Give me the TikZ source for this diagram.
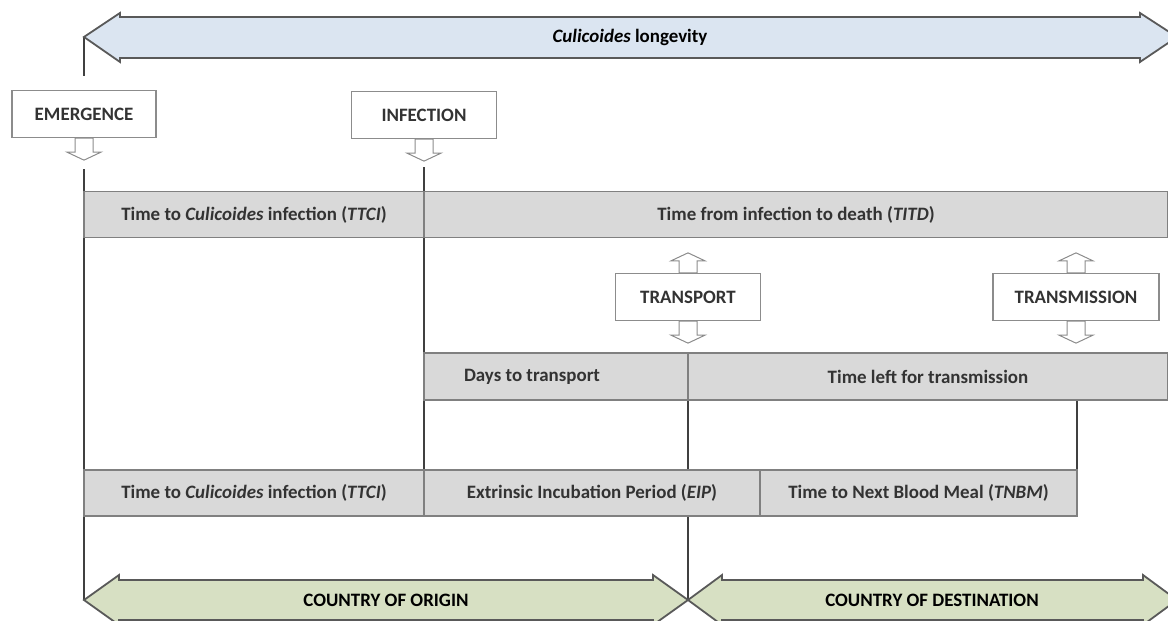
\documentclass[tikz,border=0pt]{standalone}
\usepackage{fontspec}
\setmainfont{Carlito}
\usetikzlibrary{positioning,backgrounds}
\definecolor{longblue}{HTML}{DBE5F1}
\definecolor{countrygreen}{HTML}{D7E0C3}
\definecolor{bandgray}{HTML}{D9D9D9}

\begin{document}
\begin{tikzpicture}[x=1bp,y=-1bp,font=\bfseries\fontsize{19}{22}\selectfont,
    label box/.style={rectangle,draw=black!45,line width=1.3bp,fill=white,minimum height=47bp,text=black!80},
    cell/.style={rectangle,draw=black!50,line width=1.4bp,fill=bandgray,minimum height=46bp,inner sep=0pt,outer sep=0pt,text=black!80},
    life line/.style={draw=black!75,line width=1.5bp},
    hollow/.style={draw=black!45,fill=white,line width=1bp},
    big arrow/.style={draw=black!65,line width=1.8bp,line join=miter}]

    \useasboundingbox (0,0) rectangle (1168,621);

    \coordinate (start) at (84,37);
    \coordinate (origin tip) at (84,600);
    \coordinate (border) at (688,600);

    % longevity arrow
    \draw[big arrow,fill=longblue] (start) -- (120,13) -- (120,17) -- (1140,17) -- (1140,13) -- (1177,37)
        -- (1140,62) -- (1140,58) -- (120,58) -- (120,62) -- cycle;
    \node (longevity) at (630,37) {\textit{Culicoides} longevity};

    % countries
    \draw[big arrow,fill=countrygreen] (origin tip) -- (119,575) -- (119,580) -- (653,580) -- (653,575) -- (border)
        -- (653,625) -- (653,620) -- (119,620) -- (119,625) -- cycle;
    \draw[big arrow,fill=countrygreen] (border) -- (722,575) -- (722,580) -- (1143,580) -- (1143,575) -- (1177,600)
        -- (1143,625) -- (1143,620) -- (722,620) -- (722,625) -- cycle;
    \node (origin) at (386,600) {COUNTRY OF ORIGIN};
    \node (destination) at (932,600) {COUNTRY OF DESTINATION};

    % events
    \node[label box,minimum width=144bp] (emergence) at (84,114) {EMERGENCE};
    \node[label box,minimum width=145bp] (infection) at (424,115) {INFECTION};
    \node[label box,minimum width=145bp] (transport) at (688,297) {TRANSPORT};
    \node[label box,minimum width=166bp] (transmission) at (1076,297) {TRANSMISSION};

    % periods
    \node[cell,minimum width=340bp] (ttci) at (254,214.5) {Time to \textit{Culicoides} infection (\textit{TTCI})};
    \node[cell,minimum width=744bp] (titd) [right=0pt of ttci] {Time from infection to death (\textit{TITD})};

    \node[cell,minimum width=264bp,minimum height=47bp] (days) at (556,376.5) {\hspace*{-48bp}Days to transport};
    \node[cell,minimum width=480bp,minimum height=47bp] (left) [right=0pt of days] {Time left for transmission};

    \node[cell,minimum width=340bp] (ttci2) at (254,493) {Time to \textit{Culicoides} infection (\textit{TTCI})};
    \node[cell,minimum width=336bp] (eip) [right=0pt of ttci2] {Extrinsic Incubation Period (\textit{EIP})};
    \node[cell,minimum width=317bp] (tnbm) [right=0pt of eip] {Time to Next Blood Meal (\textit{TNBM})};

    \begin{scope}[on background layer]
        \draw[life line,shorten >=14bp] (start) -- (emergence.north);
        \draw[life line,shorten <=31bp] (emergence.south) -- (origin tip);
        \draw[life line,shorten <=28bp] (infection.south) -- (infection.south |- eip.south);
        \draw[life line] (transport.south |- days.north) -- (border);
        \draw[life line] (tnbm.north east |- left.south) -- (tnbm.north east);
    \end{scope}

    % hollow arrows
    \foreach \n in {emergence,infection,transport,transmission}
        \draw[hollow] (\n.south) ++(-9,0) -- ++(0,14) -- ++(-8,0) -- ++(17,8) -- ++(17,-8) -- ++(-8,0) -- ++(0,-14) -- cycle;
    \foreach \n in {transport,transmission}
        \draw[hollow] (\n.north) ++(-9,0) -- ++(0,-12) -- ++(-8,0) -- ++(17,-8) -- ++(17,8) -- ++(-8,0) -- ++(0,12) -- cycle;
\end{tikzpicture}
\end{document}
